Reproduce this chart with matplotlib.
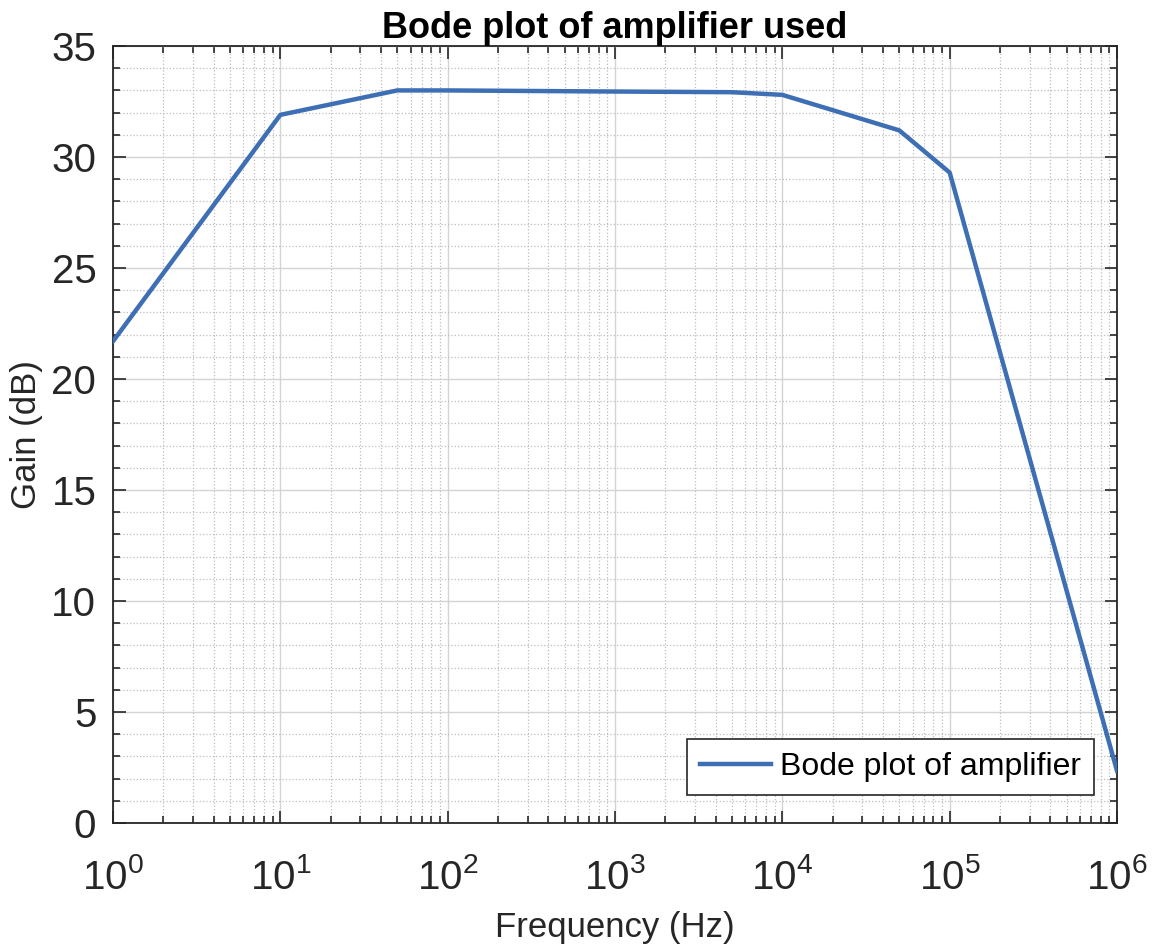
import numpy as np
import matplotlib.pyplot as plt
from matplotlib.ticker import LogLocator, MultipleLocator, NullFormatter

plt.rcParams['font.family'] = ['Liberation Sans', 'DejaVu Sans']
plt.rcParams['mathtext.fontset'] = 'custom'
plt.rcParams['mathtext.rm'] = 'Liberation Sans'
plt.rcParams['mathtext.it'] = 'Liberation Sans:italic'
plt.rcParams['mathtext.bf'] = 'Liberation Sans:bold'

# Measured amplifier response
freq_hz = [1, 10, 50, 100, 1000, 5000, 10000, 50000, 100000, 1000000]
gain_db = [21.7, 31.9, 33.0, 33.0, 32.95, 32.92, 32.8, 31.2, 29.3, 2.35]

dark = '#262626'

fig = plt.figure(figsize=(11.58, 9.49), dpi=100)
ax = fig.add_axes([0.0976, 0.1328, 0.867, 0.8187])

ax.semilogx(freq_hz, gain_db, color='#3E6EB4', linewidth=3.2,
            label='Bode plot of amplifier', zorder=3)

ax.set_xlim(1, 1e6)
ax.set_ylim(0, 35)
ax.xaxis.set_major_locator(LogLocator(base=10, numticks=10))
ax.xaxis.set_minor_locator(LogLocator(base=10, subs=np.arange(2, 10), numticks=100))
ax.xaxis.set_minor_formatter(NullFormatter())
ax.yaxis.set_major_locator(MultipleLocator(5))
ax.yaxis.set_minor_locator(MultipleLocator(1))

ax.grid(True, which='major', color='#d4d4d4', linestyle='-', linewidth=1.0)
ax.grid(True, which='minor', color='#bdbdbd', linestyle=':', linewidth=0.9)

ax.tick_params(which='both', direction='in', top=True, right=True,
               colors=dark, labelsize=29, width=1.2)
ax.tick_params(which='major', length=9)
ax.tick_params(which='minor', length=5)
ax.tick_params(axis='y', which='major', pad=12)
ax.tick_params(axis='x', which='major', pad=25)
for sp in ax.spines.values():
    sp.set_color(dark)
    sp.set_linewidth(1.3)

ax.set_xlabel('Frequency (Hz)', fontsize=25, color=dark, labelpad=10)
ax.set_ylabel('Gain (dB)', fontsize=25, color=dark, labelpad=6)
ax.set_title('Bode plot of amplifier used', fontsize=26, fontweight='bold',
             color='black', pad=4)

leg = ax.legend(loc='lower right', bbox_to_anchor=(0.977, 0.036),
                fontsize=23, fancybox=False, framealpha=1,
                edgecolor=dark, handlelength=2.2, handletextpad=0.3,
                borderpad=0.4, borderaxespad=0)
leg.get_frame().set_linewidth(1.2)

fig.savefig('out.png', dpi=100, facecolor='white')
